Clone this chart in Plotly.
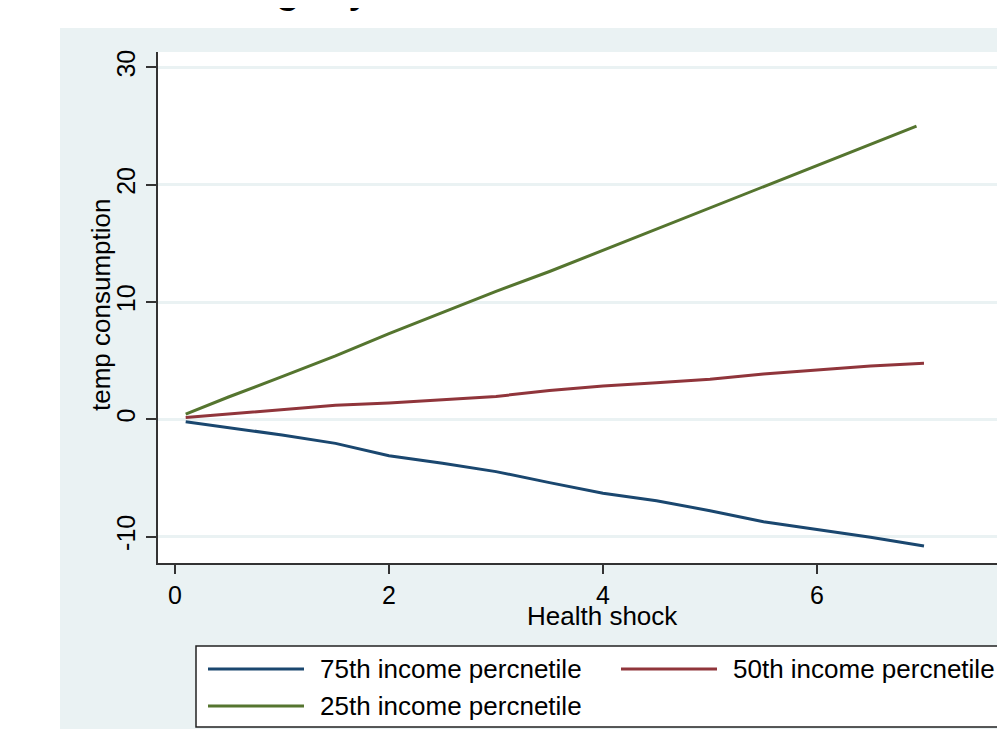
import plotly.graph_objects as go

# ---- data ----
health_shock = [0.1, 0.5, 1.0, 1.5, 2.0, 2.5, 3.0, 3.5, 4.0, 4.5, 5.0, 5.5, 6.0, 6.5, 7.0]
p75 = [-0.2, -0.68, -1.34, -2.05, -3.1, -3.75, -4.46, -5.4, -6.3, -6.94, -7.79, -8.73, -9.4, -10.06, -10.8]
p50 = [0.15, 0.45, 0.85, 1.2, 1.4, 1.7, 1.95, 2.45, 2.84, 3.12, 3.41, 3.86, 4.2, 4.54, 4.77]
health_shock_25 = [0.1, 0.5, 1.0, 1.5, 2.0, 2.5, 3.0, 3.5, 4.0, 4.5, 5.0, 5.5, 6.0, 6.5, 6.93]
p25 = [0.45, 1.9, 3.63, 5.4, 7.3, 9.1, 10.9, 12.6, 14.4, 16.2, 18.0, 19.8, 21.6, 23.4, 25.0]

series_names = ["75th income percnetile", "50th income percnetile", "25th income percnetile"]
series_colors = ["#1a476f", "#90353b", "#55752f"]
y_ticks = [-10, 0, 10, 20, 30]
x_ticks = [0, 2, 4, 6]
x_title = "Health shock"
y_title = "temp consumption"

BG = "#eaf2f3"
FONT = "Liberation Sans, Arial, sans-serif"

OFF = 8  # the page body adds an 8px margin; targets below are in screen pixels
W, H = 1005, 729
L, R, T, B = 158 - OFF, 1013 - OFF, 52 - OFF, 563 - OFF  # plot area in figure pixels


def px(xs):
    return (xs - OFF - L) / (R - L)


def py(ys):
    return (B - (ys - OFF)) / (B - T)


fig = go.Figure()
fig.add_trace(go.Scatter(x=health_shock, y=p75, mode="lines", name=series_names[0],
                         line=dict(color=series_colors[0], width=3), showlegend=False))
fig.add_trace(go.Scatter(x=health_shock, y=p50, mode="lines", name=series_names[1],
                         line=dict(color=series_colors[1], width=3), showlegend=False))
fig.add_trace(go.Scatter(x=health_shock_25, y=p25, mode="lines", name=series_names[2],
                         line=dict(color=series_colors[2], width=3), showlegend=False))

shapes = []
annotations = []
# white strips outside the grey-blue panel
shapes.append(dict(type="rect", xref="paper", yref="paper", x0=px(-20), x1=px(1100), y0=py(28), y1=py(-20),
                   fillcolor="white", line=dict(width=0), layer="below"))
shapes.append(dict(type="rect", xref="paper", yref="paper", x0=px(-20), x1=px(60), y0=py(760), y1=py(-20),
                   fillcolor="white", line=dict(width=0), layer="below"))
# legend box
shapes.append(dict(type="rect", xref="paper", yref="paper", x0=px(196), x1=px(1040), y0=py(727), y1=py(646),
                   fillcolor="white", line=dict(color="#222222", width=1.5), layer="above"))
legend_pos = [(208, 669), (621, 669), (208, 706)]
for (lx, ly), name, col in zip(legend_pos, series_names, series_colors):
    shapes.append(dict(type="line", xref="paper", yref="paper", x0=px(lx), x1=px(lx + 96), y0=py(ly), y1=py(ly),
                       line=dict(color=col, width=3), layer="above"))
    annotations.append(dict(xref="paper", yref="paper", x=px(lx + 110), y=py(ly), text=name, showarrow=False,
                            xanchor="left", yanchor="middle", font=dict(family=FONT, size=26, color="black")))

# axis titles
annotations.append(dict(xref="paper", yref="paper", x=px(602), y=py(616), text=x_title, showarrow=False,
                        xanchor="center", yanchor="middle", font=dict(family=FONT, size=26, color="black")))
annotations.append(dict(xref="paper", yref="paper", x=px(101), y=py(305), text=y_title, showarrow=False,
                        textangle=-90, xanchor="center", yanchor="middle",
                        font=dict(family=FONT, size=26, color="black")))

# partially visible title glyphs at the very top
annotations.append(dict(xref="paper", yref="paper", x=px(288), y=py(13), text="g", showarrow=False,
                        xanchor="center", yanchor="bottom", font=dict(family=FONT, size=46, color="black")))
annotations.append(dict(xref="paper", yref="paper", x=px(360), y=py(13), text="y", showarrow=False,
                        xanchor="center", yanchor="bottom", font=dict(family=FONT, size=46, color="black")))

x0_val = -(175 - 158) / 107.0
x1_val = x0_val + (R - L) / 107.0
y1_val = (419.3 - 52) / 11.73
y0_val = (419.3 - 563) / 11.73

fig.update_layout(
    width=W, height=H,
    margin=dict(l=L, r=W - R, t=T, b=H - B, pad=0),
    paper_bgcolor=BG, plot_bgcolor="white",
    font=dict(family=FONT, size=25, color="black"),
    shapes=shapes, annotations=annotations,
    xaxis=dict(range=[x0_val, x1_val], tickvals=x_ticks, ticktext=[str(v) for v in x_ticks],
               showgrid=False, zeroline=False, showline=True, linecolor="#333333", linewidth=1.5,
               ticks="outside", ticklen=9, tickwidth=1.5, tickcolor="#333333", ticklabelstandoff=0,
               tickfont=dict(size=25)),
    yaxis=dict(range=[y0_val, y1_val], tickvals=y_ticks, ticktext=[str(v) for v in y_ticks],
               showgrid=True, gridcolor=BG, gridwidth=2.5, zeroline=False,
               showline=True, linecolor="#333333", linewidth=1.5,
               ticks="outside", ticklen=10, tickwidth=1.5, tickcolor="#333333", tickangle=-90,
               ticklabelstandoff=1, tickfont=dict(size=25)),
)

fig.write_html("out.html")
